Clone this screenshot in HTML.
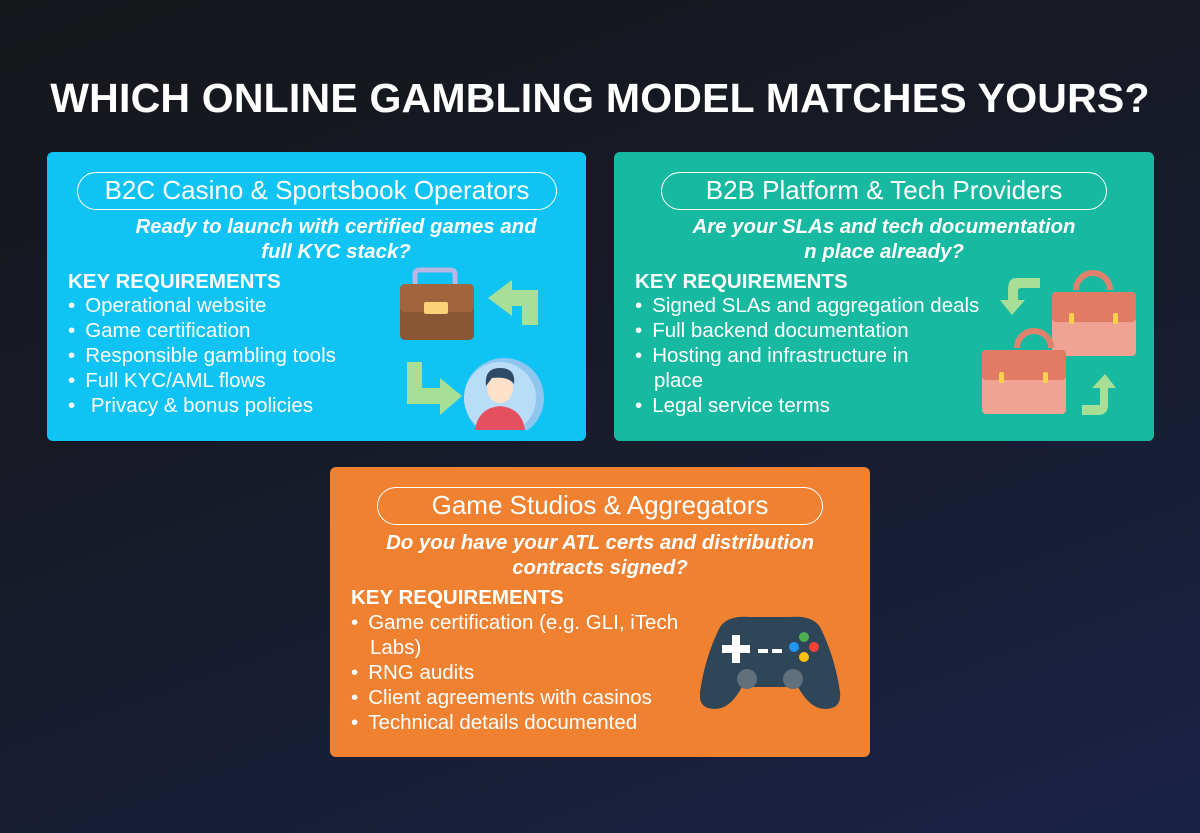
<!DOCTYPE html>
<html><head><meta charset="utf-8"><style>
*{margin:0;padding:0;box-sizing:border-box}
body{width:1200px;height:833px;overflow:hidden;background:linear-gradient(160deg,#16171b 0%,#171a26 40%,#1a2246 100%);font-family:"Liberation Sans",sans-serif;position:relative;color:#fff}
h1{position:absolute;top:75px;left:0;width:1200px;text-align:center;font-size:41px;font-weight:bold;letter-spacing:0.2px}
.box{position:absolute;width:540px;height:290px;border-radius:6px}
.pill{position:absolute;height:38px;border:1.5px solid #fff;border-radius:19px;text-align:center;font-size:26px;line-height:35px;white-space:nowrap}
.q{position:absolute;text-align:center;font-style:italic;font-weight:bold;font-size:20.4px;line-height:25px;white-space:nowrap}
.kr{position:absolute;font-weight:bold;font-size:20.5px}
ul{position:absolute;list-style:none;font-size:20.5px;line-height:25px;white-space:nowrap}
li:before{content:"•";margin-right:10px}
li.i{padding-left:19px}
li.i:before{content:"";margin:0}
svg{position:absolute}
</style></head><body>
<h1>WHICH ONLINE GAMBLING MODEL MATCHES YOURS?</h1>

<div class="box" style="left:47px;top:152px;width:539px;height:289px;background:#0fc3f4">
<div class="pill" style="left:30px;top:20px;width:480px">B2C Casino &amp; Sportsbook Operators</div>
<div class="q" style="left:49px;top:63px;width:480px">Ready to launch with certified games and<br>full KYC stack?</div>
<div class="kr" style="left:21px;top:118px">KEY REQUIREMENTS</div>
<ul style="left:21px;top:141px"><li>Operational website</li><li>Game certification</li><li>Responsible gambling tools</li><li>Full KYC/AML flows</li><li>&nbsp;Privacy &amp; bonus policies</li></ul>
<svg style="left:333px;top:108px" width="200" height="170">
<rect x="35" y="10" width="40" height="20" rx="4" fill="none" stroke="#b9b7e3" stroke-width="5"/>
<rect x="20" y="24" width="74" height="56" rx="5" fill="#8a5633"/>
<rect x="20" y="24" width="74" height="28" rx="5" fill="#a0653d"/>
<rect x="44" y="42" width="24" height="12" rx="2" fill="#fbd277"/>
<path d="M158 65 V30 H132 V20 L108 38 L132 56 V46 H142 V65 Z" fill="#a6df95"/>
<path d="M27 102 V144 H60 V155 L82 136 L60 118 V128 H42 V102 Z" fill="#a6df95"/>
<circle cx="124" cy="138" r="40" fill="#8ec6ef"/>
<circle cx="120" cy="138" r="36" fill="#b9dcf7"/>
<path d="M95 170 Q98 148 120 146 Q142 148 145 170 Z" fill="#e4505f"/>
<ellipse cx="120" cy="128" rx="13" ry="15" fill="#fde0c8"/>
<path d="M106 126 Q104 108 120 108 Q136 108 134 124 Q128 116 112 118 Z" fill="#2d4a66"/>
</svg>
</div>

<div class="box" style="left:614px;top:152px;width:540px;height:289px;background:#17b9a1">
<div class="pill" style="left:47px;top:20px;width:446px">B2B Platform &amp; Tech Providers</div>
<div class="q" style="left:40px;top:63px;width:460px">Are your SLAs and tech documentation<br>n place already?</div>
<div class="kr" style="left:21px;top:118px">KEY REQUIREMENTS</div>
<ul style="left:21px;top:141px"><li>Signed SLAs and aggregation deals</li><li>Full backend documentation</li><li>Hosting and infrastructure in</li><li class="i">place</li><li>Legal service terms</li></ul>
<svg style="left:356px;top:108px" width="180" height="170">
<path d="M70 18 H46 Q38 18 38 30 V40 H30 L42 55 L55 40 H48 V30 Q48 28 52 28 H70 Z" fill="#a6df95"/>
<path d="M106 30 a17 17 0 0 1 34 0" fill="none" stroke="#e0826b" stroke-width="6"/>
<rect x="82" y="32" width="84" height="64" rx="4" fill="#efa392"/>
<rect x="82" y="32" width="84" height="30" rx="4" fill="#e27b64"/>
<rect x="99" y="53" width="5" height="11" rx="2" fill="#fbd14b"/><rect x="143" y="53" width="5" height="11" rx="2" fill="#fbd14b"/>
<path d="M47 88 a17 17 0 0 1 34 0" fill="none" stroke="#e0826b" stroke-width="6"/>
<rect x="12" y="90" width="84" height="64" rx="4" fill="#efa392"/>
<rect x="12" y="90" width="84" height="30" rx="4" fill="#e27b64"/>
<rect x="29" y="112" width="5" height="11" rx="2" fill="#fbd14b"/><rect x="73" y="112" width="5" height="11" rx="2" fill="#fbd14b"/>
<path d="M112 155 H128 Q138 155 138 145 V128 H146 L135 114 L122 128 H130 V145 H112 Z" fill="#a6df95"/>
</svg>
</div>

<div class="box" style="left:330px;top:467px;width:540px;height:290px;background:#f08131">
<div class="pill" style="left:47px;top:20px;width:446px">Game Studios &amp; Aggregators</div>
<div class="q" style="left:40px;top:64px;width:460px">Do you have your ATL certs and distribution<br>contracts signed?</div>
<div class="kr" style="left:21px;top:119px">KEY REQUIREMENTS</div>
<ul style="left:21px;top:143px"><li>Game certification (e.g. GLI, iTech</li><li class="i">Labs)</li><li>RNG audits</li><li>Client agreements with casinos</li><li>Technical details documented</li></ul>
<svg style="left:370px;top:140px" width="150" height="110">
<path d="M20 20 Q28 8 50 10 H90 Q112 8 120 20 Q135 50 140 85 Q142 102 125 102 Q110 102 98 80 H42 Q30 102 15 102 Q-2 102 0 85 Q5 50 20 20 Z" fill="#2f4558"/>
<rect x="22" y="38" width="28" height="8" fill="#fff"/><rect x="32" y="28" width="8" height="28" fill="#fff"/>
<rect x="58" y="42" width="10" height="4" fill="#fff"/><rect x="72" y="42" width="10" height="4" fill="#fff"/>
<circle cx="104" cy="30" r="5" fill="#4caf50"/><circle cx="94" cy="40" r="5" fill="#2196f3"/><circle cx="114" cy="40" r="5" fill="#f44336"/><circle cx="104" cy="50" r="5" fill="#ffc107"/>
<circle cx="47" cy="72" r="10" fill="#60707d"/><circle cx="93" cy="72" r="10" fill="#60707d"/>
</svg>
</div>
</body></html>
